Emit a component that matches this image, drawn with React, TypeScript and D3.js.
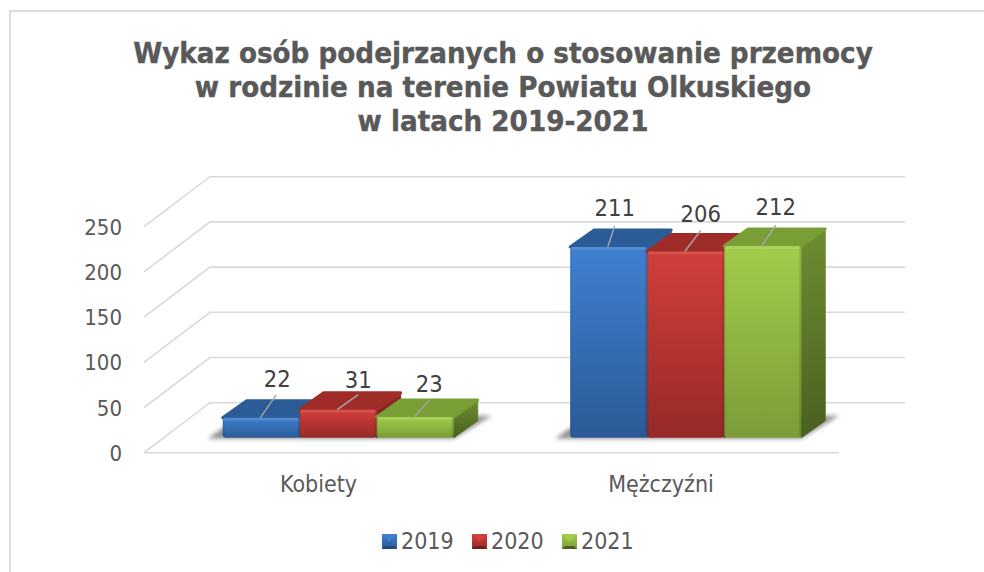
import React from "react"
import * as d3 from "d3"

const categories = ["Kobiety", "Mężczyźni"]
const years = ["2019", "2020", "2021"]
const values2019 = [22, 211]
const values2020 = [31, 206]
const values2021 = [23, 212]
const seriesValues = [values2019, values2020, values2021]
const yTicks = [0, 50, 100, 150, 200, 250]
const titleLines = [
  "Wykaz osób podejrzanych o stosowanie przemocy",
  "w rodzinie na terenie Powiatu Olkuskiego",
  "w latach 2019-2021",
]

const FONT = "'DejaVu Sans Condensed', 'DejaVu Sans', sans-serif"

// wall depth of the fake 3d floor, and depth of the bars themselves
const floorDx = 66
const floorDy = 50
const barDx = 24
const barDy = 17
const barShift = 0.31 // bars stand a bit behind the front edge of the floor

const palette = [
  { id: "b", front: ["#3f80d0", "#2b5a96"], top: "#2b5c98", side: ["#2f619e", "#234a7c"] },
  { id: "r", front: ["#d33f3b", "#962a27"], top: "#a02c29", side: ["#8f2825", "#6e1f1d"] },
  { id: "g", front: ["#a2cd4a", "#7b9c38"], top: "#7a9e36", side: ["#6c8e31", "#4a6020"] },
]

// hand placed labels in the original, relative to the bar's top centre
const labelNudge = [
  [[16, -31], [6, -31]],
  [[20, -22], [15, -29]],
  [[14, -25], [13, -31]],
]
const leaderEnd = [
  [[15, -23], [6, -21]],
  [[20, -15], [15, -21]],
  [[14, -17], [13, -21]],
]

const x = d3.scaleBand<string>().domain(categories).range([144, 839])
const y = d3.scaleLinear().domain([0, 250]).range([452.7, 226.7])
const yBar = y.copy().range([y(0) - 15, y(250) - 15])
const series = d3.scaleBand<string>().domain(years).range([-115.5, 115.5])
// the axis labels sit a little off the band centres in the original
const xLabel = d3.scalePoint<string>().domain(categories).range([318.5, 661])

function Bar({ cat, s, v }: { cat: string; s: number; v: number }) {
  const c = palette[s]
  const cx = x(cat)! + x.bandwidth() / 2 + floorDx * barShift
  const x0 = cx + series(years[s])!
  const w = series.bandwidth()
  const y0 = yBar(v)
  const base = yBar(0)
  const top = d3.path()
  top.moveTo(x0, y0)
  top.lineTo(x0 + barDx, y0 - barDy)
  top.lineTo(x0 + w + barDx, y0 - barDy)
  top.lineTo(x0 + w, y0)
  top.closePath()
  const side = d3.path()
  side.moveTo(x0 + w, y0)
  side.lineTo(x0 + w + barDx, y0 - barDy)
  side.lineTo(x0 + w + barDx, base - barDy)
  side.lineTo(x0 + w, base)
  side.closePath()
  return (
    <g>
      <path d={side.toString()} fill={`url(#side-${c.id})`} stroke={`url(#side-${c.id})`} strokeWidth={1} strokeLinejoin="round" />
      <path d={top.toString()} fill={c.top} stroke={c.top} strokeWidth={3} strokeLinejoin="round" />
      <rect x={x0} y={y0} width={w} height={base - y0} rx={3} fill={`url(#front-${c.id})`} />
      <rect x={x0} y={y0} width={w} height={base - y0} rx={3} fill="url(#edge)" />
      <rect x={x0 + 1} y={y0} width={w - 2} height={Math.min(3, base - y0)} fill="#fff" opacity={0.1} />
    </g>
  )
}

function Shadow({ cat }: { cat: string }) {
  const cx = x(cat)! + x.bandwidth() / 2 + floorDx * barShift
  const l = cx + series.range()[0]
  const r = cx + series.range()[1]
  const b = yBar(0)
  const pts: [number, number][] = [
    [l - 15, b + 1],
    [r, b + 1],
    [r + barDx + 14, b - barDy - 5],
    [r + barDx, b - barDy - 5],
    [l, b - 10],
  ]
  return <path d={d3.line()(pts) + "Z"} fill="#666" opacity={0.7} filter="url(#blur)" />
}

export default function App() {
  return (
    <svg width={984} height={572} style={{ position: "absolute", left: 0, top: 0, display: "block" }} fontFamily={FONT}>
      <defs>
        {palette.map((c) => (
          <React.Fragment key={c.id}>
            <linearGradient id={`front-${c.id}`} x1="0" y1="0" x2="0" y2="1">
              <stop offset="0" stopColor={c.front[0]} />
              <stop offset="1" stopColor={c.front[1]} />
            </linearGradient>
            <linearGradient id={`side-${c.id}`} x1="0" y1="0" x2="0" y2="1">
              <stop offset="0" stopColor={c.side[0]} />
              <stop offset="1" stopColor={c.side[1]} />
            </linearGradient>
          </React.Fragment>
        ))}
        <linearGradient id="edge" x1="0" y1="0" x2="1" y2="0">
          <stop offset="0" stopColor="#000" stopOpacity={0.1} />
          <stop offset="0.03" stopColor="#000" stopOpacity={0} />
          <stop offset="0.96" stopColor="#000" stopOpacity={0} />
          <stop offset="1" stopColor="#000" stopOpacity={0.18} />
        </linearGradient>
        <filter id="blur" x="-10%" y="-30%" width="120%" height="160%">
          <feGaussianBlur stdDeviation="2.2" />
        </filter>
      </defs>

      <rect width={984} height={572} fill="#fff" />
      {/* chart frame, cut off by the screenshot on the right and bottom */}
      <path d="M10,574V11H986" fill="none" stroke="#dcdcdc" strokeWidth={2} />

      {titleLines.map((t, i) => (
        <text
          key={t}
          x={503}
          y={63 + i * 34}
          textAnchor="middle"
          fontSize={29.2}
          fontWeight="bold"
          fill="#595959"
          stroke="#595959"
          strokeWidth={0.4}
        >
          {t}
        </text>
      ))}

      {yTicks.map((t) => (
        <g key={t}>
          <path
            d={d3.line()([
              [x.range()[0], y(t)],
              [x.range()[0] + floorDx, y(t) - floorDy],
              [905, y(t) - floorDy],
            ])!}
            fill="none"
            stroke="#d9d9d9"
            strokeWidth={1.6}
          />
          <text x={122} y={y(t) + 8} textAnchor="end" fontSize={22} fill="#595959">
            {t}
          </text>
        </g>
      ))}
      <line x1={x.range()[0]} x2={x.range()[1]} y1={y(0)} y2={y(0)} stroke="#d9d9d9" strokeWidth={1.6} />

      {categories.map((cat) => (
        <Shadow key={cat} cat={cat} />
      ))}
      {categories.map((cat, ci) =>
        years.map((yr, s) => <Bar key={cat + yr} cat={cat} s={s} v={seriesValues[s][ci]} />)
      )}

      {categories.map((cat, ci) =>
        years.map((yr, s) => {
          const v = seriesValues[s][ci]
          const cx = x(cat)! + x.bandwidth() / 2 + floorDx * barShift + series(yr)! + series.bandwidth() / 2
          const top = yBar(v)
          return (
            <g key={cat + yr}>
              <line
                x1={cx - 1}
                y1={top}
                x2={cx + leaderEnd[s][ci][0]}
                y2={top + leaderEnd[s][ci][1]}
                stroke="#a6a6a6"
                strokeWidth={1.4}
              />
              <text x={cx + labelNudge[s][ci][0]} y={top + labelNudge[s][ci][1]} textAnchor="middle" fontSize={23.5} fill="#404040">
                {v}
              </text>
            </g>
          )
        })
      )}

      {categories.map((cat) => (
        <text key={cat} x={xLabel(cat)} y={492} textAnchor="middle" fontSize={23} fill="#595959">
          {cat}
        </text>
      ))}

      {years.map((yr, i) => {
        const lx = 382 + i * 90
        const c = palette[i]
        return (
          <g key={yr}>
            <rect x={lx} y={534} width={15} height={15} fill={`url(#front-${c.id})`} />
            <path d={`M${lx},534h15l-7.5,7.5Z`} fill={c.front[0]} />
            <path d={`M${lx},549h15l-3,-3h-9Z`} fill={c.side[1]} />
            <text x={lx + 19} y={549} fontSize={23} fill="#595959">
              {yr}
            </text>
          </g>
        )
      })}
    </svg>
  )
}
